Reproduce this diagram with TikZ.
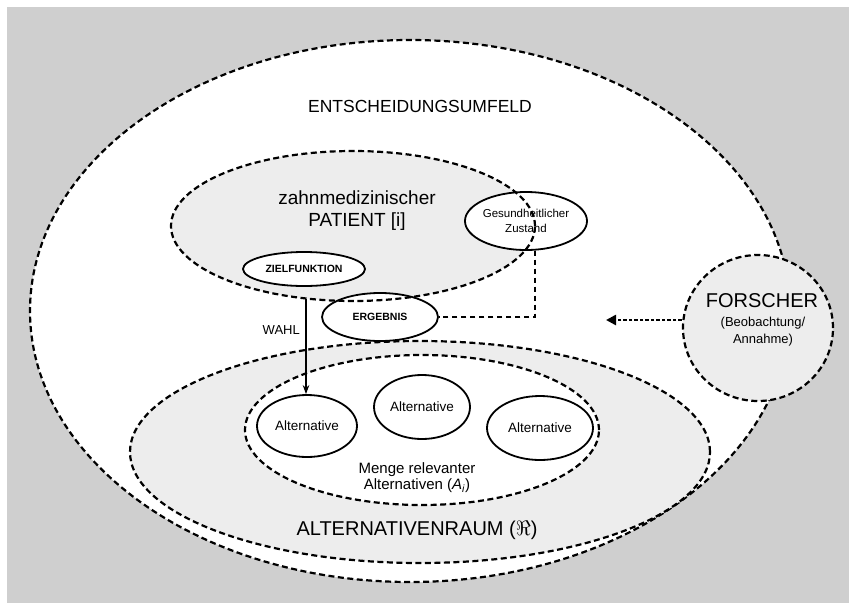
\documentclass[tikz,border=0pt]{standalone}
\usepackage{fontspec}
\setmainfont{Liberation Sans}
\usetikzlibrary{shapes.geometric,arrows.meta,calc}

\definecolor{bggrey}{HTML}{CFCFCF}
\definecolor{softgrey}{HTML}{EDEDED}

\newcommand{\fsz}[2]{\fontsize{#1}{#2}\selectfont}

\tikzset{
  region/.style={ellipse, draw, line width=2.2pt, dash pattern=on 6pt off 3.5pt, inner sep=0pt},
  item/.style={ellipse, draw, line width=1.8pt, fill=white, inner sep=0pt, align=center},
  label/.style={inner sep=0pt, align=center},
  linkline/.style={line width=2pt, dash pattern=on 5.5pt off 3.5pt},
  choice/.style={line width=1.3pt, -{Stealth[length=9pt,width=6.5pt]}},
  observe/.style={line width=2.8pt, dash pattern=on 3.5pt off 2pt, -{Triangle[length=10pt,width=10pt]}}
}

\begin{document}
\begin{tikzpicture}[x=1pt,y=-1pt]
\useasboundingbox (0,0) rectangle (849,603);
\fill[white] (0,0) rectangle (849,603);
\fill[bggrey] (7,7) rectangle (849,603);

% decision environment
\node[region, fill=white, minimum width=760pt, minimum height=542pt] (umfeld) at (410,311) {};
\node[label, font=\fsz{17.5}{20}] (umfeldtext) at (420,106) {ENTSCHEIDUNGSUMFELD};

% researcher
\node[region, fill=softgrey, minimum width=150pt, minimum height=146pt] (forscher) at (758,328) {};
\node[label, font=\fsz{20}{22}] (forscherA) at (762,301) {FORSCHER};
\node[label, font=\fsz{13}{15}] (forscherB) at (763,323) {(Beobachtung/};
\node[label, font=\fsz{13}{15}] (forscherC) at (763,340) {Annahme)};

% space of alternatives
\node[region, fill=softgrey, minimum width=580pt, minimum height=222pt] (raum) at (420,452) {};
\node[region, fill=white, minimum width=354pt, minimum height=150pt] (menge) at (422,430) {};
\node[label, font=\fsz{15}{16}] (mengetext) at (417,478)
  {Menge relevanter\\Alternativen (\textit{A}\textsubscript{\textit{i}})};
\node[label, font=\fsz{20}{22}] (raumtext) at (417,530) {ALTERNATIVENRAUM ($\Re$)};

\node[item, font=\fsz{13.5}{15}, minimum width=100pt, minimum height=62pt] (alt1) at (307,426) {Alternative};
\node[item, font=\fsz{13.5}{15}, minimum width=96pt, minimum height=64pt] (alt2) at (422,407) {Alternative};
\node[item, font=\fsz{13.5}{15}, minimum width=106pt, minimum height=64pt] (alt3) at (540,428) {Alternative};

% patient
\node[region, draw=none, fill=softgrey, minimum width=364pt, minimum height=150pt] (patient) at (353,226) {};
\node[label, font=\fsz{19}{22}] (patienttext) at (357,211) {zahnmedizinischer\\PATIENT [i]};
\node[item, font=\fsz{11.5}{15}, minimum width=118pt, minimum height=58pt] (gz) at (526,221) {Gesundheitlicher\\Zustand};
\node[item, font=\bfseries\fsz{10.5}{12}, minimum width=122pt, minimum height=34pt] (zf) at (304,269) {ZIELFUNKTION};
\node[item, font=\bfseries\fsz{10.5}{12}, minimum width=116pt, minimum height=48pt] (erg) at (380,317) {ERGEBNIS};
\node[region, minimum width=364pt, minimum height=150pt] (patientrand) at (353,226) {};

% connectors
\draw[linkline] (gz.-73) |- (erg.east);
\coordinate (wahl) at (306,299);
\draw[choice] (wahl) -- (wahl |- alt1.north);
\node[label, font=\fsz{13}{15}, anchor=east] (wahltext) at (300,330) {WAHL};
\coordinate (beobachtet) at (606,320);
\draw[observe] (forscher.west |- beobachtet) -- (beobachtet);
\end{tikzpicture}
\end{document}
